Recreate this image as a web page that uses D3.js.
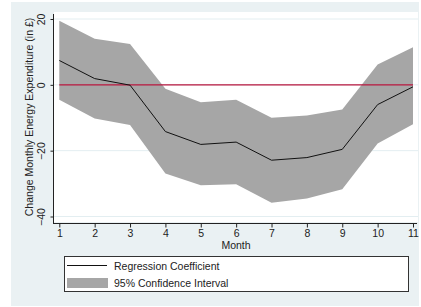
<!DOCTYPE html>
<html>
<head>
<meta charset="utf-8">
<script src="https://cdn.jsdelivr.net/npm/d3@7"></script>
<style>
  body { margin: 0; background: #fff; }
  text { font-family: "Liberation Sans", Arial, sans-serif; fill: #222; }
</style>
</head>
<body>
<div id="chart"></div>
<script>
// DATA
const months = [1, 2, 3, 4, 5, 6, 7, 8, 9, 10, 11];
const coef  = [7.4, 1.9, -0.1, -14.2, -18.1, -17.4, -22.9, -22.1, -19.6, -6.0, -0.6];
const upper = [19.5, 14.0, 12.4, -1.2, -5.3, -4.5, -10.0, -9.3, -7.5, 6.2, 11.4];
const lower = [-4.5, -10.2, -12.2, -26.9, -30.5, -30.2, -35.8, -34.5, -31.7, -17.8, -12.0];
const yTicks = [20, 0, -20, -40];
const legendLabels = ['Regression Coefficient', '95% Confidence Interval'];

const width = 421, height = 307;

const svg = d3.select('#chart').append('svg')
  .attr('width', width)
  .attr('height', height);

// OUTER BACKGROUND
svg.append('rect')
  .attr('x', 11).attr('y', 2)
  .attr('width', 408).attr('height', 304)
  .attr('fill', '#eaf1f3');

// PLOT REGION
svg.append('rect')
  .attr('x', 54).attr('y', 12)
  .attr('width', 364).attr('height', 210)
  .attr('fill', '#fff');

const x = d3.scaleLinear().domain([1, 11]).range([59.3, 413]);
const y = d3.scaleLinear().domain([-40, 20]).range([216.5, 19]);

const rows = months.map((m, i) => ({ m, c: coef[i], lo: lower[i], hi: upper[i] }));

// GRIDLINES
svg.append('g').selectAll('line')
  .data(yTicks)
  .join('line')
  .attr('x1', 54).attr('x2', 418)
  .attr('y1', d => y(d)).attr('y2', d => y(d))
  .attr('stroke', '#e3eef1')
  .attr('stroke-width', 1);

// CONFIDENCE BAND
svg.append('path')
  .datum(rows)
  .attr('fill', '#a6a6a6')
  .attr('d', d3.area().x(d => x(d.m)).y0(d => y(d.lo)).y1(d => y(d.hi)));

// ZERO LINE
svg.append('line')
  .attr('x1', x(1)).attr('x2', x(11))
  .attr('y1', y(0)).attr('y2', y(0))
  .attr('stroke', '#b8163e')
  .attr('stroke-width', 1.2);

// COEFFICIENT LINE
svg.append('path')
  .datum(rows)
  .attr('fill', 'none')
  .attr('stroke', '#111')
  .attr('stroke-width', 1)
  .attr('d', d3.line().x(d => x(d.m)).y(d => y(d.c)));

// Y AXIS
const yAxis = svg.append('g')
  .attr('transform', 'translate(53.5,0)')
  .call(d3.axisLeft(y).tickValues(yTicks).tickSize(3).tickSizeOuter(0));
yAxis.select('.domain').attr('d', `M0,${y(20) - 5}V223.5`).attr('stroke', '#222');
yAxis.selectAll('.tick line').attr('stroke', '#222');
yAxis.selectAll('.tick text')
  .attr('x', 0).attr('y', 0)
  .attr('dy', null)
  .attr('transform', 'translate(-13,0) rotate(-90)')
  .attr('text-anchor', 'middle')
  .attr('dominant-baseline', 'central')
  .style('font-size', '10.5px')
  .style('font-family', '"Liberation Sans", Arial, sans-serif');

// X AXIS
const xAxis = svg.append('g')
  .attr('transform', 'translate(0,223.5)')
  .call(d3.axisBottom(x).tickValues(months).tickFormat(d3.format('d')).tickSize(4).tickSizeOuter(0));
xAxis.select('.domain').attr('d', 'M53,0H417').attr('stroke', '#222');
xAxis.selectAll('.tick line').attr('stroke', '#222');
xAxis.selectAll('.tick text')
  .attr('y', 6)
  .style('font-size', '10.5px')
  .style('font-family', '"Liberation Sans", Arial, sans-serif');

// AXIS TITLES
svg.append('text')
  .attr('transform', 'translate(28.5,117) rotate(-90)')
  .attr('text-anchor', 'middle')
  .attr('dominant-baseline', 'central')
  .style('font-size', '10.5px')
  .text('Change Monthly Energy Expenditure (in £)');

svg.append('text')
  .attr('x', 236).attr('y', 245)
  .attr('text-anchor', 'middle')
  .attr('dominant-baseline', 'central')
  .style('font-size', '10.5px')
  .text('Month');

// LEGEND
const legend = svg.append('g');
legend.append('rect')
  .attr('x', 64.5).attr('y', 256.5)
  .attr('width', 344).attr('height', 35)
  .attr('fill', '#fff')
  .attr('stroke', '#333')
  .attr('stroke-width', 1);
legend.append('line')
  .attr('x1', 67).attr('x2', 107)
  .attr('y1', 265.5).attr('y2', 265.5)
  .attr('stroke', '#111');
legend.append('rect')
  .attr('x', 67).attr('y', 278)
  .attr('width', 41).attr('height', 10)
  .attr('fill', '#a6a6a6');
legend.selectAll('text.leg')
  .data(legendLabels)
  .join('text')
  .attr('class', 'leg')
  .attr('x', 114)
  .attr('y', (d, i) => 265.5 + i * 17.5)
  .attr('dominant-baseline', 'central')
  .style('font-size', '10.5px')
  .text(d => d);
</script>
</body>
</html>
